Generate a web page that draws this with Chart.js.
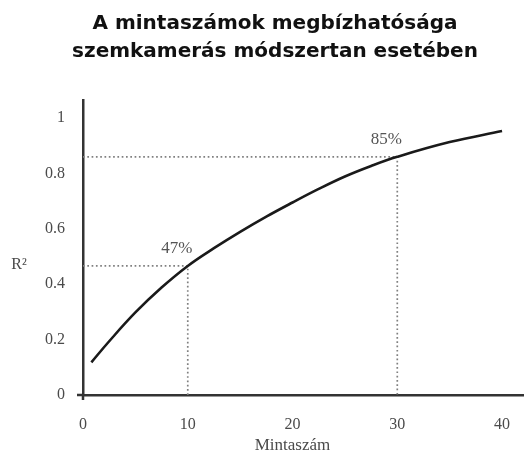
<!DOCTYPE html>
<html lang="hu">
<head>
    <meta charset="UTF-8">
    <title>A mintaszámok megbízhatósága</title>
    <style>
        html, body {
            margin: 0;
            padding: 0;
            background: #fff;
        }
        .wrap {
            width: 524px;
            height: 454px;
            position: relative;
        }
    </style>
</head>
<body>

<div class="wrap">
    <canvas id="chart" width="524" height="454"></canvas>
</div>

<script src="https://cdn.jsdelivr.net/npm/chart.js"></script>

<script>
    // curve
    const sampleSize = [0.8, 2.5, 5, 7.5, 10, 12.5, 15, 17.5, 20, 22.5, 25, 27.5, 30, 35, 40];
    const rSquared  = [0.118, 0.194, 0.298, 0.388, 0.466, 0.53, 0.589, 0.644, 0.695, 0.744, 0.789, 0.827, 0.86, 0.913, 0.953];

    // highlighted points with dotted guide lines
    const markX = [10, 30];
    const markY = [0.466, 0.86];
    const markLabels = ['47%', '85%'];

    const xTicks = [0, 10, 20, 30, 40];
    const yTicks = [0, 0.2, 0.4, 0.6, 0.8, 1];

    const titleLines = ['A mintaszámok megbízhatósága', 'szemkamerás módszertan esetében'];
    const xTitle = 'Mintaszám';
    const yTitle = 'R²';

    const serif = '"Liberation Serif", "DejaVu Serif", serif';
    const textGray = '#4a4a4a';
    const axisColor = '#333';

    const curve = sampleSize.map((x, i) => ({ x: x, y: rSquared[i] }));

    // one dotted elbow per marker: y axis -> point -> x axis
    const guideSets = markX.map((x, i) => ({
        data: [{ x: 0, y: markY[i] }, { x: x, y: markY[i] }, { x: x, y: 0 }],
        borderColor: '#808080',
        borderWidth: 1.7,
        borderDash: [1.7, 2.6],
        pointRadius: 0,
        tension: 0,
        fill: false
    }));

    // title, labels, axis titles and the little axis overhangs
    const extras = {
        id: 'extras',
        afterDraw(chart) {
            const ctx = chart.ctx;
            const xs = chart.scales.x;
            const ys = chart.scales.y;
            const area = chart.chartArea;
            ctx.save();

            ctx.fillStyle = '#111';
            ctx.font = 'bold 20px "DejaVu Sans", sans-serif';
            ctx.textAlign = 'center';
            ctx.textBaseline = 'alphabetic';
            titleLines.forEach((line, i) => {
                ctx.fillText(line, 275, 29 + i * 28);
            });

            ctx.strokeStyle = axisColor;
            ctx.lineWidth = 2.5;
            ctx.beginPath();
            ctx.moveTo(area.left - 6, area.bottom);
            ctx.lineTo(area.left, area.bottom);
            ctx.moveTo(area.left, area.bottom);
            ctx.lineTo(area.left, area.bottom + 5);
            ctx.stroke();

            ctx.fillStyle = '#555';
            ctx.font = '17px ' + serif;
            ctx.textBaseline = 'middle';
            markX.forEach((x, i) => {
                const px = xs.getPixelForValue(x);
                const py = ys.getPixelForValue(markY[i]);
                ctx.fillText(markLabels[i], px - 11, py - 17);
            });

            ctx.fillStyle = textGray;
            ctx.font = '16px ' + serif;
            ctx.fillText(yTitle, 19, ys.getPixelForValue(0.47));

            ctx.font = '17px ' + serif;
            ctx.fillText(xTitle, xs.getPixelForValue(20), 446);
            ctx.restore();
        }
    };

    new Chart(document.getElementById('chart'), {
        type: 'line',
        data: {
            datasets: [{
                data: curve,
                borderColor: '#1a1a1a',
                borderWidth: 2.6,
                pointRadius: 0,
                tension: 0.4,
                fill: false
            }].concat(guideSets)
        },
        options: {
            responsive: false,
            animation: false,
            layout: { padding: { right: 1, top: 100, left: 0, bottom: 0 } },
            plugins: {
                legend: { display: false },
                tooltip: { enabled: false },
                title: { display: false }
            },
            scales: {
                x: {
                    type: 'linear',
                    min: 0,
                    max: 42,
                    afterBuildTicks: s => { s.ticks = xTicks.map(v => ({ value: v })); },
                    afterFit: s => { s.height = 59; s.paddingLeft = 0; s.paddingRight = 0; },
                    grid: { display: false, drawTicks: false },
                    border: { display: true, color: axisColor, width: 2.5 },
                    ticks: {
                        color: textGray,
                        font: { family: serif, size: 16 },
                        padding: 20,
                        maxRotation: 0
                    },
                    title: { display: false }
                },
                y: {
                    min: 0,
                    max: 1.065,
                    afterBuildTicks: s => { s.ticks = yTicks.map(v => ({ value: v })); },
                    afterFit: s => { s.width = 83; s.paddingTop = 0; s.paddingBottom = 0; },
                    grid: { display: false, drawTicks: false },
                    border: { display: true, color: axisColor, width: 2.5 },
                    ticks: {
                        color: textGray,
                        font: { family: serif, size: 16 },
                        padding: 18,
                        callback: v => String(Number(v.toFixed(1)))
                    }
                }
            }
        },
        plugins: [extras]
    });
</script>

</body>
</html>
